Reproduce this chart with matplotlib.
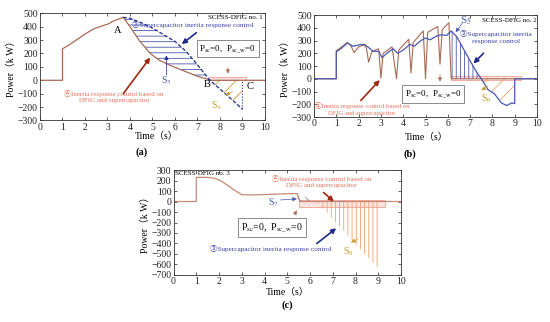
import matplotlib.pyplot as plt
import matplotlib.patches as mpatches
import numpy as np

plt.rcParams['font.family'] = ['Liberation Serif', 'Noto Sans CJK SC', 'DejaVu Sans']
plt.rcParams['mathtext.fontset'] = 'stix'
plt.rcParams['hatch.linewidth'] = 0.6

# ---------------- data (a) ----------------
a_t_dfig = [0, 1.0, 1.0, 1.3, 1.7, 2.0, 2.4, 2.8, 3.0, 3.3, 3.7, 4.0, 4.4, 4.9, 5.3, 5.8, 6.4, 7.0, 7.6, 10]
a_p_dfig = [0, 0, 235, 265, 310, 345, 385, 408, 418, 445, 470, 400, 300, 200, 150, 110, 70, 30, 0, 0]
a_t_sc = [3.7, 4.0, 4.5, 5.0, 5.5, 6.0, 6.5, 7.0, 7.55, 8.0, 8.5, 9.0]
a_p_sc = [470, 462, 430, 390, 340, 290, 215, 115, 0, -65, -140, -215]

# ---------------- data (b) ----------------
b_t_sc = [0, 1.0, 1.0, 1.2, 1.5, 1.75, 2.0, 2.25, 2.45, 2.65, 2.9, 3.05, 3.3, 3.55, 3.75, 4.0,
          4.3, 4.5, 4.8, 5.0, 5.2, 5.5, 5.7, 5.95, 6.15, 6.4, 6.7, 7.0, 7.3, 7.5, 7.8, 8.1,
          8.4, 8.65, 8.85, 9.0, 9.0, 10]
b_p_sc = [0, 0, 210, 235, 280, 255, 265, 270, 245, 215, 215, 165, 205, 235, 200, 225,
          270, 255, 300, 320, 305, 335, 345, 340, 375, 330, 235, 140, 50, 0, -85, -120,
          -190, -210, -190, -195, 0, 0]
b_t_dfig = [0, 1.0, 1.0, 1.2, 1.5, 1.65, 1.8, 2.0, 2.25, 2.35, 2.45, 2.6, 2.9, 3.0, 3.1, 3.5,
            3.7, 3.8, 4.25, 4.35, 4.45, 4.9, 5.0, 5.1, 5.55, 5.65, 5.75, 6.05, 6.15, 10]
b_p_dfig = [0, 0, 220, 245, 285, 260, 205, 250, 265, 240, 130, 215, 235, 5, 200, 250,
            0, 225, 310, 45, 285, 375, 0, 365, 410, 115, 385, 440, 0, 0]

# ---------------- data (c) ----------------
c_t_dfig = [0, 1.0, 1.0, 1.5, 1.8, 2.1, 2.4, 2.7, 3.0, 3.5, 4.0, 4.5, 5.0, 5.45, 5.55, 10]
c_p_dfig = [0, 0, 230, 230, 222, 195, 150, 105, 65, 63, 66, 70, 74, 75, 0, 0]
c_t_sc = [5.45, 6.3, 9.0]
c_p_sc = [72, 0, -640]

C_BROWN = '#a86a55'
C_BROWN2 = '#c48a78'
C_NAVY = '#1f2a8a'
C_BLUE = '#4a58b0'
C_TXT_BLUE = '#3a40a8'
C_SALMON = '#e8705a'
C_RED = '#a02810'
C_YEL = '#c89a30'
C_ORANGE = '#f0a070'
C_PINK = '#fbe4e0'


def setup(ax, ylim, yticks):
    ax.set_xlim(0, 10)
    ax.set_ylim(*ylim)
    ax.set_xticks(np.arange(0, 11, 1))
    ax.set_yticks(yticks)
    ax.tick_params(direction='in', top=True, right=True, length=2.5, width=0.5,
                   labelsize=7, pad=1.5, colors='#222')
    for s in ax.spines.values():
        s.set_linewidth(0.6)
        s.set_color('#333')
    ax.set_xlabel('Time（s）', fontsize=7)
    ax.set_ylabel('Power（k W）', fontsize=7)
    ax.xaxis.label.set_va('center')
    ax.yaxis.label.set_va('center')


def arrow(ax, xy, xytext, color, lw=1.2, ms=7):
    ax.annotate('', xy=xy, xytext=xytext,
                arrowprops=dict(arrowstyle='-|>', color=color, lw=lw,
                                mutation_scale=ms, shrinkA=0, shrinkB=0))


box = dict(boxstyle='square,pad=0.3', fc='white', ec='#777', lw=0.6)
psc = r'P$_{\rm sc}$=0,  P$_{\rm sc\_w}$=0'

fig = plt.figure(figsize=(5.5, 3.22), dpi=100)
ax_a = fig.add_axes([0.0727, 0.6258, 0.4091, 0.3329])
ax_b = fig.add_axes([0.5709, 0.6366, 0.4055, 0.3168])
ax_c = fig.add_axes([0.3155, 0.146, 0.4136, 0.326])

# ======================= (a) =======================
ax = ax_a
setup(ax, (-300, 500), np.arange(-300, 501, 100))
ax.xaxis.set_label_coords(0.52, -0.15)
ax.yaxis.set_label_coords(-0.126, 0.5)

t_sc = np.array(a_t_sc)
p_sc = np.array(a_p_sc)
t_df = np.array(a_t_dfig)
p_df = np.array(a_p_dfig)
up = t_sc <= 7.55
seg = (t_df >= 3.7) & (t_df <= 7.6)
ax.fill(np.r_[t_sc[up], t_df[seg][::-1]], np.r_[p_sc[up], p_df[seg][::-1]],
        facecolor='none', edgecolor=C_BLUE, hatch='---', linewidth=0)
dn = t_sc >= 7.55
ax.add_patch(mpatches.Rectangle((7.55, 0), 1.6, 25, fc=C_PINK, ec='#f0a090', lw=0.6))
ax.fill_between(t_sc[dn], p_sc[dn], 0, facecolor='none', edgecolor=C_YEL, hatch='//', linewidth=0)

ax.plot(t_df, p_df, color=C_BROWN, lw=0.9)
ax.plot(t_sc, p_sc, color=C_NAVY, lw=0.9, ls=(0, (3, 1.5)))
ax.vlines(t_sc[-1], p_sc[-1], 0, color=C_NAVY, lw=0.8, linestyles=':')

ax.text(9.9, 468, 'SCESS-DFIG no. 1', ha='right', va='center', fontsize=5)
ax.text(3.45, 375, 'A', ha='center', va='center', fontsize=7.5)
ax.text(4.1, 420, '③Supercapacitor inertia response control', color=C_TXT_BLUE,
        fontsize=5.2, ha='left', va='center')
arrow(ax, (6.3, 270), (6.95, 355), C_NAVY)
ax.text(8.35, 235, psc, ha='center', va='center', fontsize=6.5, bbox=box)
arrow(ax, (8.35, 50), (8.35, 95), C_BROWN, lw=0.4, ms=6)
arrow(ax, (4.9, 170), (3.7, -100), C_RED)
ax.text(3.3, -120, '④Inertia response control based on\nDFIG and supercapacitor',
        ha='center', va='center', fontsize=5, color=C_SALMON)
arrow(ax, (5.62, 185), (5.62, 40), C_NAVY, lw=0.5, ms=6)
ax.text(5.6, 0, r'S$_3$', color=C_BLUE, fontsize=7, ha='center', va='center')
ax.text(7.45, -35, 'B', ha='center', va='center', fontsize=7.5)
ax.text(9.2, -50, 'C', ha='left', va='center', fontsize=7.5)
ax.text(7.85, -190, r'S$_4$', color=C_YEL, fontsize=7, ha='center', va='center')
arrow(ax, (8.25, -112), (8.55, -85), C_YEL, lw=0.5, ms=6)

# ======================= (b) =======================
ax = ax_b
setup(ax, (-300, 500), np.arange(-300, 501, 100))
ax.xaxis.set_label_coords(0.505, -0.2)
ax.yaxis.set_label_coords(-0.13, 0.5)

t_sc = np.array(b_t_sc)
p_sc = np.array(b_p_sc)
ax.add_patch(mpatches.Rectangle((6.15, -10), 3.15, 30, fc=C_PINK, ec='#f0a090', lw=0.6))
s5 = (t_sc >= 6.15) & (t_sc <= 7.5)
ax.fill_between(t_sc[s5], p_sc[s5], 0, facecolor='none', edgecolor=C_BLUE, hatch='||||', linewidth=0)
s6 = (t_sc >= 7.5) & (t_sc <= 9.0) & (p_sc != 0) | (t_sc == 7.5)
ax.fill_between(t_sc[s6], p_sc[s6], 0, facecolor='none', edgecolor=C_ORANGE, hatch='//', linewidth=0)

ax.plot(b_t_dfig, b_p_dfig, color=C_BROWN, lw=0.8)
ax.plot(t_sc, p_sc, color=C_BLUE, lw=0.9)

ax.text(6.8, 455, r'S$_5$', color=C_BLUE, fontsize=8, ha='center', va='center')
ax.text(8.75, 455, 'SCESS-DFIG no. 2', ha='center', va='center', fontsize=5)
arrow(ax, (6.35, 365), (6.65, 435), C_BLUE, lw=0.5, ms=6)
ax.text(8.15, 330, '③Supercapacitor inertia\nresponse control', color=C_TXT_BLUE,
        fontsize=5.2, ha='center', va='center', linespacing=1.5)
arrow(ax, (7.15, 120), (7.6, 200), C_NAVY)
ax.text(5.35, -120, psc, ha='center', va='center', fontsize=6.5, bbox=box)
arrow(ax, (5.65, -22), (5.65, 35), C_BROWN, lw=0.4, ms=6)
arrow(ax, (2.95, -10), (2.1, -170), C_RED)
ax.text(2.15, -238, '④Inertia response control based on\nDFIG and supercapacitor',
        ha='center', va='center', fontsize=4.8, color=C_SALMON, linespacing=1.5)
ax.text(7.75, -155, r'S$_6$', color=C_YEL, fontsize=7, ha='center', va='center')
arrow(ax, (7.5, -90), (7.8, -60), C_YEL, lw=0.5, ms=6)

# ======================= (c) =======================
ax = ax_c
setup(ax, (-700, 300), np.arange(-700, 301, 100))
ax.xaxis.set_label_coords(0.5, -0.17)
ax.yaxis.set_label_coords(-0.125, 0.5)

ax.add_patch(mpatches.Rectangle((5.5, -55), 3.8, 70, fc=C_PINK, ec='#f0a090', lw=0.6))
ax.fill_between(c_t_sc[:2], c_p_sc[:2], 0, facecolor='none', edgecolor='#8888aa',
                hatch='\\\\\\\\', linewidth=0)
ax.fill_between(c_t_sc[1:], c_p_sc[1:], 0, facecolor='none', edgecolor=C_ORANGE,
                hatch='||||', linewidth=0)
ax.plot(c_t_dfig, c_p_dfig, color=C_BROWN2, lw=0.9)

ax.text(0.05, 268, 'SCESS-DFIG no. 3', ha='left', va='center', fontsize=5)
ax.text(6.5, 190, '④Inertia response control based on\nDFIG and supercapacitor',
        ha='center', va='center', fontsize=5, color=C_SALMON, linespacing=1.45)
arrow(ax, (7.05, 0), (6.6, 85), C_RED)
ax.text(4.4, -15, r'S$_7$', color=C_BLUE, fontsize=7, ha='center', va='center')
arrow(ax, (5.42, 25), (4.7, 15), C_BLUE, lw=0.5, ms=6)
arrow(ax, (5.42, -85), (5.3, -130), C_BROWN, lw=0.4, ms=6)
ax.text(4.32, -247, psc, ha='center', va='center', fontsize=7, bbox=box)
arrow(ax, (7.15, -255), (6.3, -400), C_NAVY)
ax.text(4.3, -446, '③Supercapacitor inertia response control', color=C_TXT_BLUE,
        fontsize=5.2, ha='center', va='center')
ax.text(7.7, -480, r'S$_8$', color=C_YEL, fontsize=7, ha='center', va='center')
arrow(ax, (7.8, -390), (8.1, -360), C_YEL, lw=0.5, ms=6)

fig.text(142 / 550, 1 - 152 / 322, '(a)', ha='center', va='center', fontsize=7.5, fontweight='bold')
fig.text(410 / 550, 1 - 154 / 322, '(b)', ha='center', va='center', fontsize=7.5, fontweight='bold')
fig.text(287 / 550, 1 - 305 / 322, '(c)', ha='center', va='center', fontsize=7.5, fontweight='bold')

fig.savefig('out.png', dpi=100)
